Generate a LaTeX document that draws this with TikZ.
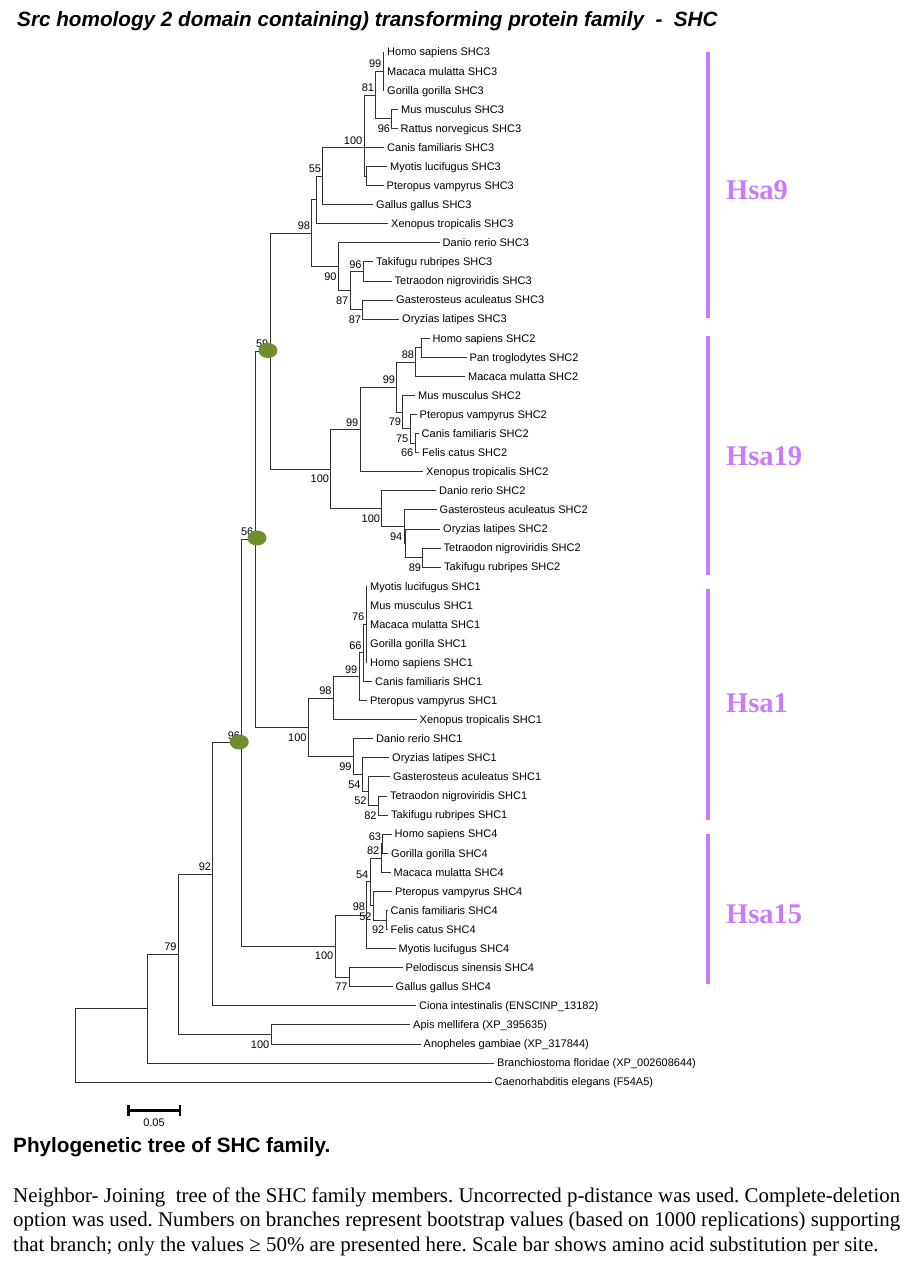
\documentclass[tikz,border=0pt]{standalone}
\usepackage{fontspec}
\setmainfont{Liberation Serif}
\setsansfont{Liberation Sans}
\usepackage{tikz}
\usetikzlibrary{shapes.geometric}
\definecolor{hsapurple}{RGB}{201,124,250}
\definecolor{nodegreen}{RGB}{112,142,48}
\frenchspacing

\begin{document}
\begin{tikzpicture}[x=1pt, y=-1pt]
  \tikzstyle{treeline}=[draw=black!80, line width=0.8pt]
  \tikzstyle{leaf}=[anchor=west, inner xsep=3pt, inner ysep=0pt, text height=7.9pt, text depth=0pt, font=\sffamily\fontsize{11}{13}\selectfont]
  \tikzstyle{bsa}=[anchor=south east, inner sep=0pt, xshift=-1.5pt, yshift=3pt, font=\sffamily\fontsize{11}{13}\selectfont]
  \tikzstyle{bsb}=[anchor=north east, inner sep=0pt, xshift=-1.5pt, yshift=-6pt, font=\sffamily\fontsize{11}{13}\selectfont]
  \tikzstyle{gdot}=[ellipse, fill=nodegreen, inner sep=0pt, minimum width=19pt, minimum height=15pt]
  \tikzstyle{hsabar}=[draw=hsapurple, line width=4pt]
  \tikzstyle{hsa}=[anchor=base west, inner sep=0pt, text=hsapurple, font=\rmfamily\bfseries\fontsize{28.5}{30}\selectfont]
  \tikzstyle{capline}=[anchor=base west, inner sep=0pt, font=\rmfamily\fontsize{20.9}{24}\selectfont]
  \fill[white] (0,0) rectangle (923,1270);
  \useasboundingbox (0,0) rectangle (923,1270);

  \node[anchor=base west, inner sep=0pt, font=\sffamily\bfseries\itshape\fontsize{20.7}{24}\selectfont] (title) at (17,26)
    {Src homology 2 domain containing) transforming protein family\ \ -\ \ SHC};

  \node[leaf] (hs3) at (384,52) {Homo sapiens SHC3};
  \node[leaf] (mm3) at (384,71.1) {Macaca mulatta SHC3};
  \node[leaf] (gg3) at (384,90.2) {Gorilla gorilla SHC3};
  \node[leaf] (mus3) at (398,109.2) {Mus musculus SHC3};
  \node[leaf] (rn3) at (397.5,128.3) {Rattus norvegicus SHC3};
  \node[leaf] (cf3) at (384,147.4) {Canis familiaris SHC3};
  \node[leaf] (ml3) at (387,166.4) {Myotis lucifugus SHC3};
  \node[leaf] (pv3) at (383.5,185.5) {Pteropus vampyrus SHC3};
  \node[leaf] (gal3) at (373,204.6) {Gallus gallus SHC3};
  \node[leaf] (xt3) at (388,223.7) {Xenopus tropicalis SHC3};
  \node[leaf] (dr3) at (439.5,242.7) {Danio rerio SHC3};
  \node[leaf] (tr3) at (373,261.8) {Takifugu rubripes SHC3};
  \node[leaf] (tn3) at (391.5,280.9) {Tetraodon nigroviridis SHC3};
  \node[leaf] (ga3) at (393,300) {Gasterosteus aculeatus SHC3};
  \node[leaf] (ol3) at (399,319) {Oryzias latipes SHC3};

  \node[leaf] (hs2) at (429.5,338.1) {Homo sapiens SHC2};
  \node[leaf] (pt2) at (466.5,357.2) {Pan troglodytes SHC2};
  \node[leaf] (mm2) at (465,376.3) {Macaca mulatta SHC2};
  \node[leaf] (mus2) at (415,395.3) {Mus musculus SHC2};
  \node[leaf] (pv2) at (416.5,414.4) {Pteropus vampyrus SHC2};
  \node[leaf] (cf2) at (418.5,433.5) {Canis familiaris SHC2};
  \node[leaf] (fc2) at (419,452.6) {Felis catus SHC2};
  \node[leaf] (xt2) at (423,471.6) {Xenopus tropicalis SHC2};
  \node[leaf] (dr2) at (436,490.7) {Danio rerio SHC2};
  \node[leaf] (ga2) at (436.5,509.8) {Gasterosteus aculeatus SHC2};
  \node[leaf] (ol2) at (440,528.9) {Oryzias latipes SHC2};
  \node[leaf] (tn2) at (440.5,547.9) {Tetraodon nigroviridis SHC2};
  \node[leaf] (tr2) at (441,567) {Takifugu rubripes SHC2};

  \node[leaf] (ml1) at (367,586.1) {Myotis lucifugus SHC1};
  \node[leaf] (mus1) at (367,605.2) {Mus musculus SHC1};
  \node[leaf] (mm1) at (367,624.2) {Macaca mulatta SHC1};
  \node[leaf] (gg1) at (367,643.3) {Gorilla gorilla SHC1};
  \node[leaf] (hs1) at (367,662.4) {Homo sapiens SHC1};
  \node[leaf] (cf1) at (372,681.4) {Canis familiaris SHC1};
  \node[leaf] (pv1) at (367,700.5) {Pteropus vampyrus SHC1};
  \node[leaf] (xt1) at (416.5,719.6) {Xenopus tropicalis SHC1};
  \node[leaf] (dr1) at (373,738.7) {Danio rerio SHC1};
  \node[leaf] (ol1) at (389,757.7) {Oryzias latipes SHC1};
  \node[leaf] (ga1) at (390,776.8) {Gasterosteus aculeatus SHC1};
  \node[leaf] (tn1) at (387,795.9) {Tetraodon nigroviridis SHC1};
  \node[leaf] (tr1) at (388,815) {Takifugu rubripes SHC1};

  \node[leaf] (hs4) at (391.5,834) {Homo sapiens SHC4};
  \node[leaf] (gg4) at (388,853.1) {Gorilla gorilla SHC4};
  \node[leaf] (mm4) at (390.5,872.2) {Macaca mulatta SHC4};
  \node[leaf] (pv4) at (392,891.3) {Pteropus vampyrus SHC4};
  \node[leaf] (cf4) at (387.5,910.3) {Canis familiaris SHC4};
  \node[leaf] (fc4) at (387.5,929.4) {Felis catus SHC4};
  \node[leaf] (ml4) at (395.5,948.5) {Myotis lucifugus SHC4};
  \node[leaf] (ps4) at (402.5,967.6) {Pelodiscus sinensis SHC4};
  \node[leaf] (gal4) at (392.5,986.6) {Gallus gallus SHC4};

  \node[leaf] (ci) at (416,1005.7) {Ciona intestinalis (ENSCINP\_13182)};
  \node[leaf] (am) at (410,1024.8) {Apis mellifera (XP\_395635)};
  \node[leaf] (ag) at (420.5,1043.9) {Anopheles gambiae (XP\_317844)};
  \node[leaf] (bf) at (494,1062.9) {Branchiostoma floridae (XP\_002608644)};
  \node[leaf] (ce) at (491.5,1082) {Caenorhabditis elegans (F54A5)};

  \coordinate (n99a) at (383,71.1);
  \coordinate (n96a) at (391.7,118.8);
  \coordinate (n81) at (375.7,95);
  \coordinate (nmp3) at (366.7,176);
  \coordinate (n100a) at (364,147.4);
  \coordinate (n55) at (322.7,176);
  \coordinate (nxt3) at (316.7,199.8);
  \coordinate (n96b) at (363.3,271.4);
  \coordinate (n87b) at (362.7,309.5);
  \coordinate (n87a) at (350,290.4);
  \coordinate (n90) at (338.3,266.6);
  \coordinate (n98) at (311.7,233.2);

  \coordinate (nhp2) at (421,347.65);
  \coordinate (n88) at (415.7,362);
  \coordinate (n66b) at (415,443);
  \coordinate (n75) at (410,428.7);
  \coordinate (n79) at (402.7,412);
  \coordinate (n99c) at (396.7,387);
  \coordinate (n99b) at (360,429.3);
  \coordinate (n89) at (422.7,557.5);
  \coordinate (nol2) at (405.7,543.2);
  \coordinate (n94) at (404,526.5);
  \coordinate (n100c) at (381.7,508.6);
  \coordinate (n100b) at (330.7,469);
  \coordinate (n59) at (270,351.1);

  \coordinate (n76) at (366,624.2);
  \coordinate (n66) at (363.3,652.8);
  \coordinate (n99d) at (359,676.7);
  \coordinate (n98b) at (333.3,698.1);
  \coordinate (n82) at (378.3,805.4);
  \coordinate (n52) at (368.3,791.1);
  \coordinate (n54) at (362.3,774.4);
  \coordinate (n99e) at (353.3,756.5);
  \coordinate (n100d) at (308.3,727.3);
  \coordinate (n56) at (255,539.2);

  \coordinate (n63) at (382.7,843.6);
  \coordinate (n82b) at (381,857.9);
  \coordinate (n92) at (386,919.9);
  \coordinate (n52b) at (373.3,905.6);
  \coordinate (n54b) at (370,881.75);
  \coordinate (n98c) at (366.7,915.1);
  \coordinate (n77) at (349.3,977.1);
  \coordinate (n100e) at (335,946.1);
  \coordinate (n96) at (241.7,742.65);

  \coordinate (n92b) at (212.7,874.2);
  \coordinate (n100f) at (271,1034.3);
  \coordinate (n79b) at (178.3,954.25);
  \coordinate (nbf) at (147.3,1008.6);
  \coordinate (nroot) at (75,1045.3);

  \draw[treeline] (n99a) |- (hs3.west) (n99a) |- (mm3.west) (n99a) |- (gg3.west);
  \draw[treeline] (n96a) |- (mus3.west) (n96a) |- (rn3.west);
  \draw[treeline] (n81) |- (n99a) (n81) |- (n96a);
  \draw[treeline] (nmp3) |- (ml3.west) (nmp3) |- (pv3.west);
  \draw[treeline] (n100a) |- (n81) (n100a) |- (cf3.west) (n100a) |- (nmp3);
  \draw[treeline] (n55) |- (n100a) (n55) |- (gal3.west);
  \draw[treeline] (nxt3) |- (n55) (nxt3) |- (xt3.west);
  \draw[treeline] (n96b) |- (tr3.west) (n96b) |- (tn3.west);
  \draw[treeline] (n87b) |- (ga3.west) (n87b) |- (ol3.west);
  \draw[treeline] (n87a) |- (n96b) (n87a) |- (n87b);
  \draw[treeline] (n90) |- (dr3.west) (n90) |- (n87a);
  \draw[treeline] (n98) |- (nxt3) (n98) |- (n90);

  \draw[treeline] (nhp2) |- (hs2.west) (nhp2) |- (pt2.west);
  \draw[treeline] (n88) |- (nhp2) (n88) |- (mm2.west);
  \draw[treeline] (n66b) |- (cf2.west) (n66b) |- (fc2.west);
  \draw[treeline] (n75) |- (pv2.west) (n75) |- (n66b);
  \draw[treeline] (n79) |- (mus2.west) (n79) |- (n75);
  \draw[treeline] (n99c) |- (n88) (n99c) |- (n79);
  \draw[treeline] (n99b) |- (n99c) (n99b) |- (xt2.west);
  \draw[treeline] (n89) |- (tn2.west) (n89) |- (tr2.west);
  \draw[treeline] (nol2) |- (ol2.west) (nol2) |- (n89);
  \draw[treeline] (n94) |- (ga2.west) (n94) |- (nol2);
  \draw[treeline] (n100c) |- (dr2.west) (n100c) |- (n94);
  \draw[treeline] (n100b) |- (n99b) (n100b) |- (n100c);
  \draw[treeline] (n59) |- (n98) (n59) |- (n100b);

  \draw[treeline] (n76) |- (ml1.west) (n76) |- (mus1.west) (n76) |- (mm1.west) (n76) |- (gg1.west) (n76) |- (hs1.west);
  \draw[treeline] (n66) |- (n76) (n66) |- (cf1.west);
  \draw[treeline] (n99d) |- (n66) (n99d) |- (pv1.west);
  \draw[treeline] (n98b) |- (n99d) (n98b) |- (xt1.west);
  \draw[treeline] (n82) |- (tn1.west) (n82) |- (tr1.west);
  \draw[treeline] (n52) |- (ga1.west) (n52) |- (n82);
  \draw[treeline] (n54) |- (ol1.west) (n54) |- (n52);
  \draw[treeline] (n99e) |- (dr1.west) (n99e) |- (n54);
  \draw[treeline] (n100d) |- (n98b) (n100d) |- (n99e);
  \draw[treeline] (n56) |- (n59) (n56) |- (n100d);

  \draw[treeline] (n63) |- (hs4.west) (n63) |- (gg4.west);
  \draw[treeline] (n82b) |- (n63) (n82b) |- (mm4.west);
  \draw[treeline] (n92) |- (cf4.west) (n92) |- (fc4.west);
  \draw[treeline] (n52b) |- (pv4.west) (n52b) |- (n92);
  \draw[treeline] (n54b) |- (n82b) (n54b) |- (n52b);
  \draw[treeline] (n98c) |- (n54b) (n98c) |- (ml4.west);
  \draw[treeline] (n77) |- (ps4.west) (n77) |- (gal4.west);
  \draw[treeline] (n100e) |- (n98c) (n100e) |- (n77);
  \draw[treeline] (n96) |- (n56) (n96) |- (n100e);

  \draw[treeline] (n92b) |- (n96) (n92b) |- (ci.west);
  \draw[treeline] (n100f) |- (am.west) (n100f) |- (ag.west);
  \draw[treeline] (n79b) |- (n92b) (n79b) |- (n100f);
  \draw[treeline] (nbf) |- (n79b) (nbf) |- (bf.west);
  \draw[treeline] (nroot) |- (nbf) (nroot) |- (ce.west);

  \node[bsa] (b99a) at (n99a) {99};
  \node[bsb] (b96a) at (n96a) {96};
  \node[bsa] (b81) at (n81) {81};
  \node[bsa] (b100a) at (n100a) {100};
  \node[bsa] (b55) at (n55) {55};
  \node[bsa] (b98) at (n98) {98};
  \node[bsb] (b90) at (n90) {90};
  \node[bsa] (b96b) at (n96b) {96};
  \node[bsb] (b87a) at (n87a) {87};
  \node[bsb] (b87b) at (n87b) {87};
  \node[bsa] (b59) at (n59) {59};
  \node[bsa] (b88) at (n88) {88};
  \node[bsa] (b99c) at (n99c) {99};
  \node[bsb] (b79) at (n79) {79};
  \node[bsb] (b75) at (n75) {75};
  \node[bsb] (b66b) at (n66b) {66};
  \node[bsa] (b99b) at (n99b) {99};
  \node[bsb] (b100b) at (n100b) {100};
  \node[bsb] (b100c) at (n100c) {100};
  \node[bsb] (b94) at (n94) {94};
  \node[bsb] (b89) at (n89) {89};
  \node[bsa] (b56) at (n56) {56};
  \node[bsa] (b76) at (n76) {76};
  \node[bsa] (b66) at (n66) {66};
  \node[bsa] (b99d) at (n99d) {99};
  \node[bsa] (b98b) at (n98b) {98};
  \node[bsb] (b100d) at (n100d) {100};
  \node[bsb] (b99e) at (n99e) {99};
  \node[bsb] (b54) at (n54) {54};
  \node[bsb] (b52) at (n52) {52};
  \node[bsb] (b82) at (n82) {82};
  \node[bsa] (b63) at (n63) {63};
  \node[bsa] (b82b) at (n82b) {82};
  \node[bsa] (b54b) at (n54b) {54};
  \node[bsa, yshift=1.5pt] (b98c) at (n98c) {98};
  \node[bsb, yshift=-1.5pt] (b52b) at (n52b) {52};
  \node[bsb] (b92) at (n92) {92};
  \node[bsb] (b100e) at (n100e) {100};
  \node[bsb] (b77) at (n77) {77};
  \node[bsa] (b96) at (n96) {96};
  \node[bsa] (b92b) at (n92b) {92};
  \node[bsb] (b100f) at (n100f) {100};
  \node[bsa] (b79b) at (n79b) {79};

  \node[gdot] (dup59) at (268,350.5) {};
  \node[gdot] (dup56) at (257,538) {};
  \node[gdot] (dup96) at (239.2,742) {};

  \draw[hsabar] (708,52) -- (708,318);
  \draw[hsabar] (708,336) -- (708,575);
  \draw[hsabar] (708,589) -- (708,820);
  \draw[hsabar] (708,834) -- (708,984);
  \node[hsa] (hsa9) at (726,199.5) {Hsa9};
  \node[hsa] (hsa19) at (726,465.5) {Hsa19};
  \node[hsa] (hsa1) at (726,712.5) {Hsa1};
  \node[hsa] (hsa15) at (726,923.5) {Hsa15};

  \coordinate (sbl) at (127,1110);
  \coordinate (sbr) at (181,1110);
  \draw[line width=3pt] (sbl) -- (sbr);
  \draw[line width=2.5pt] ([shift={(1.25,-5.5)}]sbl) -- ([shift={(1.25,5.5)}]sbl);
  \draw[line width=2.5pt] ([shift={(-1.25,-5.5)}]sbr) -- ([shift={(-1.25,5.5)}]sbr);
  \node[inner sep=0pt, font=\sffamily\fontsize{11}{13}\selectfont] (sblabel) at (154,1123) {0.05};

  \node[anchor=base west, inner sep=0pt, font=\sffamily\bfseries\fontsize{20.7}{24}\selectfont] (heading) at (13,1152)
    {Phylogenetic tree of SHC family.};
  \node[capline] (cap1) at (13,1202) {\makebox[887pt][s]{Neighbor- Joining\ \ tree of the SHC family members. Uncorrected p-distance was used. Complete-deletion}};
  \node[capline] (cap2) at (13,1226.5) {\makebox[887pt][s]{option was used. Numbers on branches represent bootstrap values (based on 1000 replications) supporting}};
  \node[capline] (cap3) at (13,1251) {that branch; only the values ≥ 50\% are presented here. Scale bar shows amino acid substitution per site.};
\end{tikzpicture}
\end{document}
